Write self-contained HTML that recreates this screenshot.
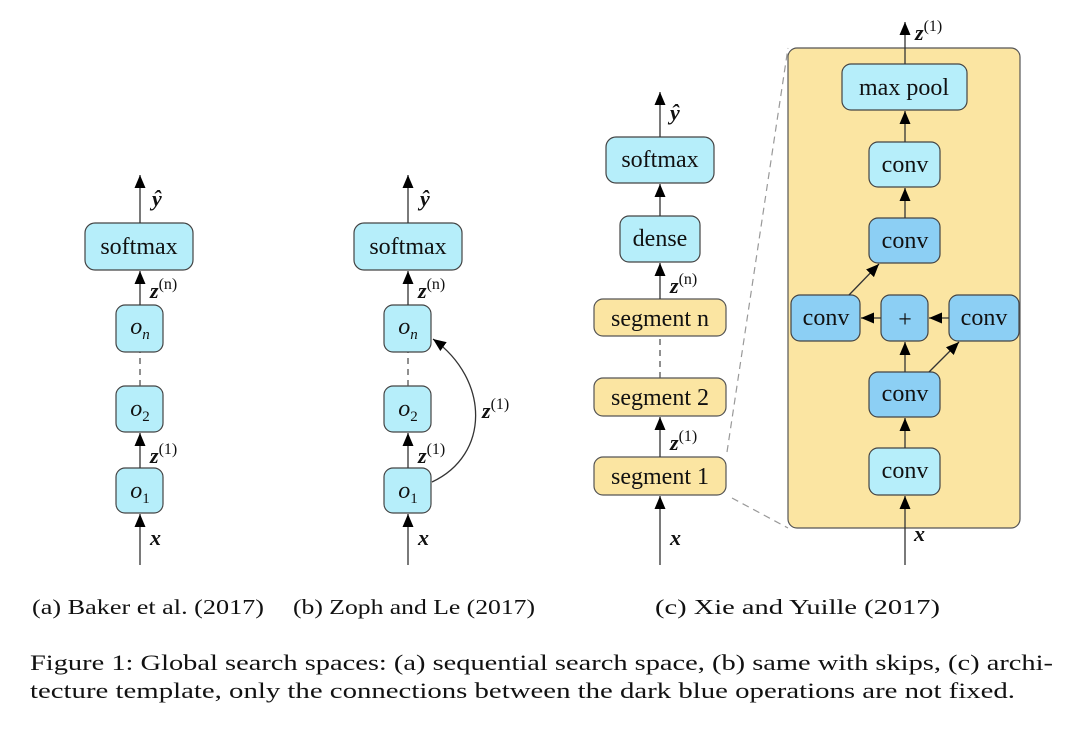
<!DOCTYPE html>
<html><head><meta charset="utf-8"><style>
html,body{margin:0;padding:0;background:#fff;}
svg{display:block;}
text{font-family:"Liberation Serif",serif;fill:#111;}
.lb{fill:#b6eefa;stroke:#444;stroke-width:1.2;}
.db{fill:#8ccff4;stroke:#444;stroke-width:1.2;}
.yb{fill:#fbe5a2;stroke:#555;stroke-width:1.2;}
.ln{stroke:#333;stroke-width:1.3;fill:none;}
.dl{stroke:#555;stroke-width:1.3;stroke-dasharray:6,5;fill:none;}
.gd{stroke:#999;stroke-width:1.2;stroke-dasharray:7,5;fill:none;}
.bt{font-size:24px;text-anchor:middle;}
.m{font-style:italic;font-weight:bold;font-size:22px;}
.sp{font-size:16px;font-style:normal;font-weight:normal;}
</style></head><body>
<svg width="1080" height="734" viewBox="0 0 1080 734" xmlns="http://www.w3.org/2000/svg">
<defs>
<marker id="a" markerWidth="13" markerHeight="11" refX="13" refY="5.5" orient="auto" markerUnits="userSpaceOnUse" viewBox="0 0 13 11">
<path d="M0,0 L13,5.5 L0,11 Z" fill="#000"/></marker>
</defs>

<!-- Panel a -->
<line class="ln" x1="140" y1="565" x2="140" y2="514" marker-end="url(#a)"/>
<text class="m" x="150" y="545">x</text>
<rect class="lb" x="116" y="468" width="47" height="45" rx="9"/>
<text class="bt" x="140" y="498"><tspan font-style="italic">o</tspan><tspan font-size="15" dy="5">1</tspan></text>
<line class="ln" x1="140" y1="468" x2="140" y2="433" marker-end="url(#a)"/>
<text class="m" x="150" y="463">z<tspan class="sp" dy="-9">(1)</tspan></text>
<rect class="lb" x="116" y="386" width="47" height="46" rx="9"/>
<text class="bt" x="140" y="416"><tspan font-style="italic">o</tspan><tspan font-size="15" dy="5">2</tspan></text>
<line class="dl" x1="140" y1="386" x2="140" y2="352"/>
<rect class="lb" x="116" y="305" width="47" height="47" rx="9"/>
<text class="bt" x="140" y="334"><tspan font-style="italic">o</tspan><tspan font-size="15" font-style="italic" dy="5">n</tspan></text>
<line class="ln" x1="140" y1="305" x2="140" y2="271" marker-end="url(#a)"/>
<text class="m" x="150" y="298">z<tspan class="sp" dy="-9">(n)</tspan></text>
<rect class="lb" x="85" y="223" width="108" height="47" rx="10"/>
<text class="bt" x="139" y="254">softmax</text>
<line class="ln" x1="140" y1="223" x2="140" y2="175" marker-end="url(#a)"/>
<text class="m" x="152" y="206">ŷ</text>

<!-- Panel b -->
<line class="ln" x1="408" y1="565" x2="408" y2="514" marker-end="url(#a)"/>
<text class="m" x="418" y="545">x</text>
<rect class="lb" x="384" y="468" width="47" height="45" rx="9"/>
<text class="bt" x="408" y="498"><tspan font-style="italic">o</tspan><tspan font-size="15" dy="5">1</tspan></text>
<line class="ln" x1="408" y1="468" x2="408" y2="433" marker-end="url(#a)"/>
<text class="m" x="418" y="463">z<tspan class="sp" dy="-9">(1)</tspan></text>
<rect class="lb" x="384" y="386" width="47" height="46" rx="9"/>
<text class="bt" x="408" y="416"><tspan font-style="italic">o</tspan><tspan font-size="15" dy="5">2</tspan></text>
<line class="dl" x1="408" y1="386" x2="408" y2="352"/>
<rect class="lb" x="384" y="305" width="47" height="47" rx="9"/>
<text class="bt" x="408" y="334"><tspan font-style="italic">o</tspan><tspan font-size="15" font-style="italic" dy="5">n</tspan></text>
<path class="ln" d="M432,482 C490,455 490,380 433,339" marker-end="url(#a)"/>
<text class="m" x="482" y="418">z<tspan class="sp" dy="-9">(1)</tspan></text>
<line class="ln" x1="408" y1="305" x2="408" y2="271" marker-end="url(#a)"/>
<text class="m" x="418" y="298">z<tspan class="sp" dy="-9">(n)</tspan></text>
<rect class="lb" x="354" y="223" width="108" height="47" rx="10"/>
<text class="bt" x="408" y="254">softmax</text>
<line class="ln" x1="408" y1="223" x2="408" y2="175" marker-end="url(#a)"/>
<text class="m" x="420" y="206">ŷ</text>

<!-- Panel c left -->
<line class="gd" x1="727" y1="452" x2="788" y2="48"/>
<line class="gd" x1="732" y1="498" x2="788" y2="528"/>
<line class="ln" x1="660" y1="565" x2="660" y2="496" marker-end="url(#a)"/>
<text class="m" x="670" y="545">x</text>
<rect class="yb" x="594" y="457" width="132" height="38" rx="9"/>
<text class="bt" x="660" y="484">segment 1</text>
<line class="ln" x1="660" y1="457" x2="660" y2="417" marker-end="url(#a)"/>
<text class="m" x="670" y="450">z<tspan class="sp" dy="-9">(1)</tspan></text>
<rect class="yb" x="594" y="378" width="132" height="38" rx="9"/>
<text class="bt" x="660" y="405">segment 2</text>
<line class="dl" x1="660" y1="378" x2="660" y2="336"/>
<rect class="yb" x="594" y="299" width="132" height="37" rx="9"/>
<text class="bt" x="660" y="326">segment n</text>
<line class="ln" x1="660" y1="299" x2="660" y2="263" marker-end="url(#a)"/>
<text class="m" x="670" y="293">z<tspan class="sp" dy="-9">(n)</tspan></text>
<rect class="lb" x="620" y="216" width="80" height="46" rx="9"/>
<text class="bt" x="660" y="246">dense</text>
<line class="ln" x1="660" y1="216" x2="660" y2="184" marker-end="url(#a)"/>
<rect class="lb" x="606" y="137" width="108" height="46" rx="10"/>
<text class="bt" x="660" y="167">softmax</text>
<line class="ln" x1="660" y1="137" x2="660" y2="92" marker-end="url(#a)"/>
<text class="m" x="670" y="120">ŷ</text>

<!-- Panel c right -->
<rect class="yb" x="788" y="48" width="232" height="480" rx="9"/>
<line class="ln" x1="905" y1="565" x2="905" y2="496" marker-end="url(#a)"/>
<text class="m" x="914" y="541">x</text>
<rect class="lb" x="869" y="448" width="71" height="47" rx="9"/>
<text class="bt" x="905" y="478">conv</text>
<line class="ln" x1="905" y1="448" x2="905" y2="418" marker-end="url(#a)"/>
<rect class="db" x="869" y="372" width="71" height="45" rx="9"/>
<text class="bt" x="905" y="401">conv</text>
<line class="ln" x1="905" y1="372" x2="905" y2="342" marker-end="url(#a)"/>
<line class="ln" x1="929" y1="372" x2="959" y2="342" marker-end="url(#a)"/>
<rect class="db" x="881" y="295" width="47" height="46" rx="9"/>
<text class="bt" x="905" y="327">+</text>
<rect class="db" x="791" y="295" width="69" height="46" rx="9"/>
<text class="bt" x="826" y="325">conv</text>
<rect class="db" x="949" y="295" width="70" height="46" rx="9"/>
<text class="bt" x="984" y="325">conv</text>
<line class="ln" x1="949" y1="318" x2="929" y2="318" marker-end="url(#a)"/>
<line class="ln" x1="881" y1="318" x2="861" y2="318" marker-end="url(#a)"/>
<line class="ln" x1="849" y1="295" x2="879" y2="264" marker-end="url(#a)"/>
<rect class="db" x="869" y="218" width="71" height="45" rx="9"/>
<text class="bt" x="905" y="248">conv</text>
<line class="ln" x1="905" y1="218" x2="905" y2="188" marker-end="url(#a)"/>
<rect class="lb" x="869" y="142" width="71" height="45" rx="9"/>
<text class="bt" x="905" y="172">conv</text>
<line class="ln" x1="905" y1="142" x2="905" y2="111" marker-end="url(#a)"/>
<rect class="lb" x="842" y="64" width="125" height="46" rx="9"/>
<text class="bt" x="904" y="95">max pool</text>
<line class="ln" x1="905" y1="64" x2="905" y2="22" marker-end="url(#a)"/>
<text class="m" x="915" y="40">z<tspan class="sp" dy="-9">(1)</tspan></text>

<!-- captions -->
<text x="32" y="614" font-size="21" textLength="232" lengthAdjust="spacingAndGlyphs">(a) Baker et al. (2017)</text>
<text x="293" y="614" font-size="21" textLength="242" lengthAdjust="spacingAndGlyphs">(b) Zoph and Le (2017)</text>
<text x="655" y="614" font-size="21" textLength="285" lengthAdjust="spacingAndGlyphs">(c) Xie and Yuille (2017)</text>
<text x="30" y="670" font-size="22" textLength="1023" lengthAdjust="spacingAndGlyphs">Figure 1: Global search spaces: (a) sequential search space, (b) same with skips, (c) archi-</text>
<text x="30" y="698" font-size="22" textLength="985" lengthAdjust="spacingAndGlyphs">tecture template, only the connections between the dark blue operations are not fixed.</text>
</svg>
</body></html>
